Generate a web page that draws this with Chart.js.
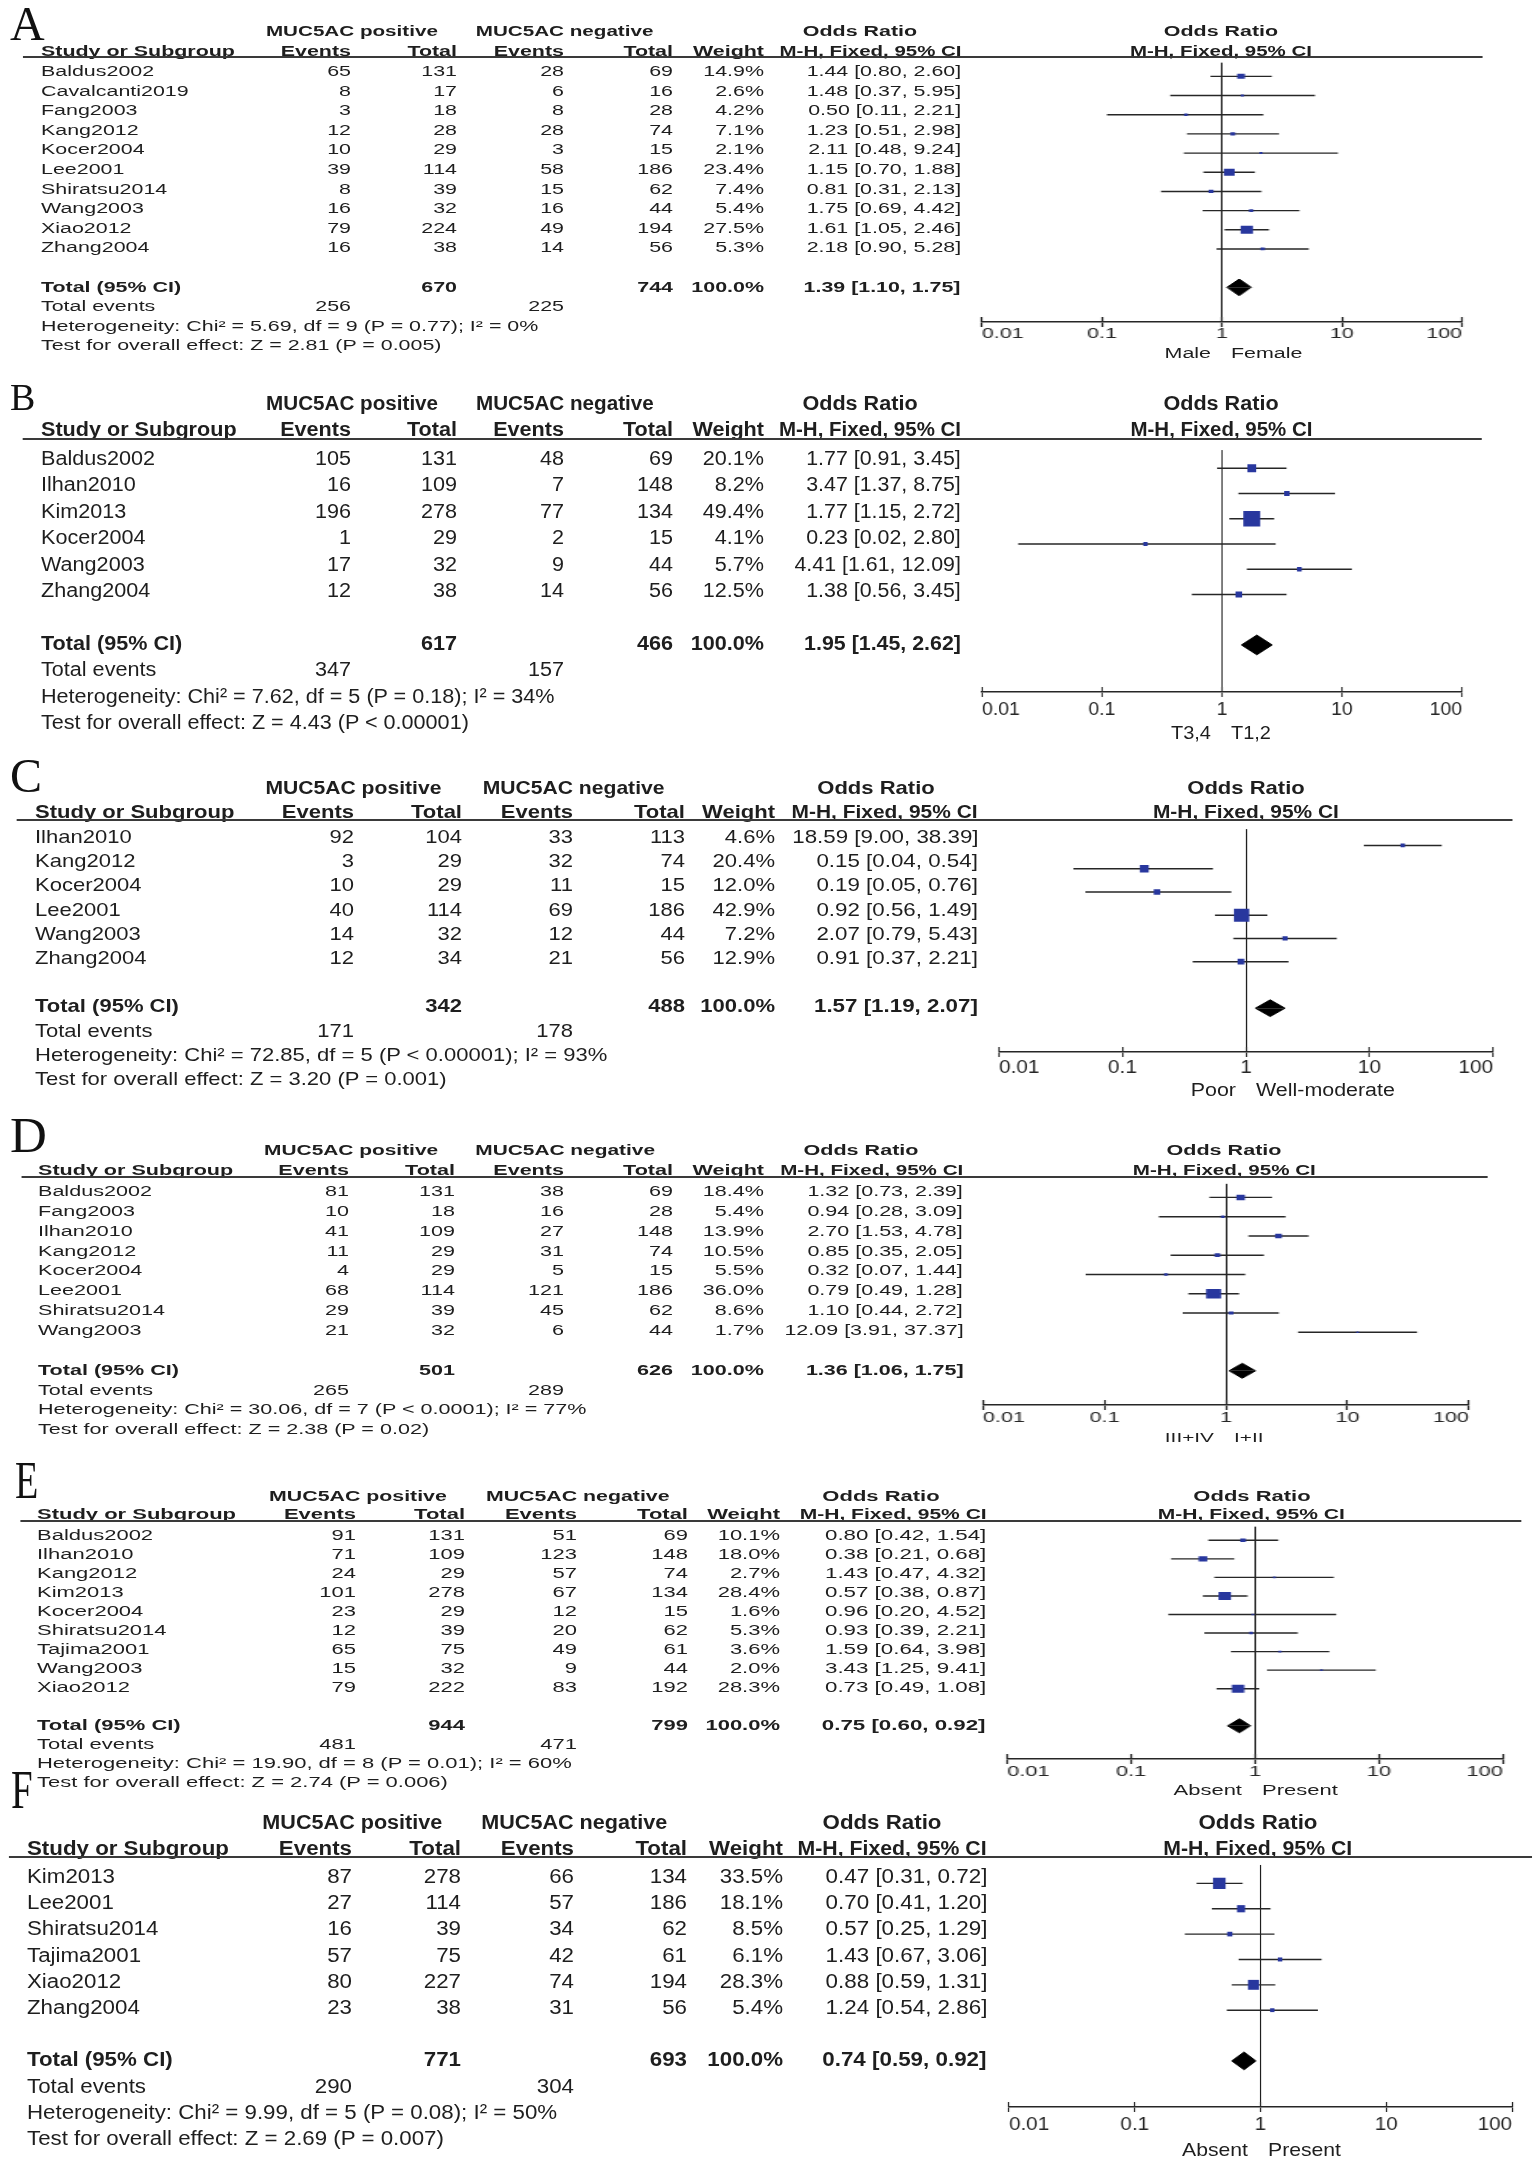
<!DOCTYPE html>
<html>
<head>
<meta charset="utf-8">
<script src="https://cdn.jsdelivr.net/npm/chart.js"></script>
<style>
html,body{margin:0;padding:0;background:#fff;}
#page{position:relative;width:1535px;height:2172px;overflow:hidden;background:#fff;}
.panel{position:absolute;left:0;top:0;height:2172px;transform-origin:0 0;}
.t{position:absolute;width:0;height:0;}
.t span{position:absolute;white-space:nowrap;color:#1e1e1e;font-family:"Liberation Sans",Arial,sans-serif;line-height:normal;}
.letter{position:absolute;font-family:"Liberation Serif","Times New Roman",serif;color:#111;line-height:normal;transform-origin:0 0;white-space:nowrap;}
</style>
</head>
<body>
<div id="page"></div>
<script>
// ---------------- DATA ----------------
const tickValues = [0.01, 0.1, 1, 10, 100];
const tickLabels = ['0.01', '0.1', '1', '10', '100'];

// Panel A
const studiesA = ['Baldus2002','Cavalcanti2019','Fang2003','Kang2012','Kocer2004','Lee2001','Shiratsu2014','Wang2003','Xiao2012','Zhang2004'];
const posEventsA = [65, 8, 3, 12, 10, 39, 8, 16, 79, 16];
const posTotalA = [131, 17, 18, 28, 29, 114, 39, 32, 224, 38];
const negEventsA = [28, 6, 8, 28, 3, 58, 15, 16, 49, 14];
const negTotalA = [69, 16, 28, 74, 15, 186, 62, 44, 194, 56];
const weightA = [14.9, 2.6, 4.2, 7.1, 2.1, 23.4, 7.4, 5.4, 27.5, 5.3];
const orA = [1.44, 1.48, 0.50, 1.23, 2.11, 1.15, 0.81, 1.75, 1.61, 2.18];
const lowA = [0.80, 0.37, 0.11, 0.51, 0.48, 0.70, 0.31, 0.69, 1.05, 0.90];
const highA = [2.60, 5.95, 2.21, 2.98, 9.24, 1.88, 2.13, 4.42, 2.46, 5.28];
const pooledA = [1.39, 1.10, 1.75];
const totalsA = [670, 744];
const totalEventsA = [256, 225];
const hetA = 'Heterogeneity: Chi\u00b2 = 5.69, df = 9 (P = 0.77); I\u00b2 = 0%';
const overallA = 'Test for overall effect: Z = 2.81 (P = 0.005)';
const favoursA = ['Male', 'Female'];

// Panel B
const studiesB = ['Baldus2002','Ilhan2010','Kim2013','Kocer2004','Wang2003','Zhang2004'];
const posEventsB = [105, 16, 196, 1, 17, 12];
const posTotalB = [131, 109, 278, 29, 32, 38];
const negEventsB = [48, 7, 77, 2, 9, 14];
const negTotalB = [69, 148, 134, 15, 44, 56];
const weightB = [20.1, 8.2, 49.4, 4.1, 5.7, 12.5];
const orB = [1.77, 3.47, 1.77, 0.23, 4.41, 1.38];
const lowB = [0.91, 1.37, 1.15, 0.02, 1.61, 0.56];
const highB = [3.45, 8.75, 2.72, 2.80, 12.09, 3.45];
const pooledB = [1.95, 1.45, 2.62];
const totalsB = [617, 466];
const totalEventsB = [347, 157];
const hetB = 'Heterogeneity: Chi\u00b2 = 7.62, df = 5 (P = 0.18); I\u00b2 = 34%';
const overallB = 'Test for overall effect: Z = 4.43 (P < 0.00001)';
const favoursB = ['T3,4', 'T1,2'];

// Panel C
const studiesC = ['Ilhan2010','Kang2012','Kocer2004','Lee2001','Wang2003','Zhang2004'];
const posEventsC = [92, 3, 10, 40, 14, 12];
const posTotalC = [104, 29, 29, 114, 32, 34];
const negEventsC = [33, 32, 11, 69, 12, 21];
const negTotalC = [113, 74, 15, 186, 44, 56];
const weightC = [4.6, 20.4, 12.0, 42.9, 7.2, 12.9];
const orC = [18.59, 0.15, 0.19, 0.92, 2.07, 0.91];
const lowC = [9.00, 0.04, 0.05, 0.56, 0.79, 0.37];
const highC = [38.39, 0.54, 0.76, 1.49, 5.43, 2.21];
const pooledC = [1.57, 1.19, 2.07];
const totalsC = [342, 488];
const totalEventsC = [171, 178];
const hetC = 'Heterogeneity: Chi\u00b2 = 72.85, df = 5 (P < 0.00001); I\u00b2 = 93%';
const overallC = 'Test for overall effect: Z = 3.20 (P = 0.001)';
const favoursC = ['Poor', 'Well-moderate'];

// Panel D
const studiesD = ['Baldus2002','Fang2003','Ilhan2010','Kang2012','Kocer2004','Lee2001','Shiratsu2014','Wang2003'];
const posEventsD = [81, 10, 41, 11, 4, 68, 29, 21];
const posTotalD = [131, 18, 109, 29, 29, 114, 39, 32];
const negEventsD = [38, 16, 27, 31, 5, 121, 45, 6];
const negTotalD = [69, 28, 148, 74, 15, 186, 62, 44];
const weightD = [18.4, 5.4, 13.9, 10.5, 5.5, 36.0, 8.6, 1.7];
const orD = [1.32, 0.94, 2.70, 0.85, 0.32, 0.79, 1.10, 12.09];
const lowD = [0.73, 0.28, 1.53, 0.35, 0.07, 0.49, 0.44, 3.91];
const highD = [2.39, 3.09, 4.78, 2.05, 1.44, 1.28, 2.72, 37.37];
const pooledD = [1.36, 1.06, 1.75];
const totalsD = [501, 626];
const totalEventsD = [265, 289];
const hetD = 'Heterogeneity: Chi\u00b2 = 30.06, df = 7 (P < 0.0001); I\u00b2 = 77%';
const overallD = 'Test for overall effect: Z = 2.38 (P = 0.02)';
const favoursD = ['III+IV', 'I+II'];

// Panel E
const studiesE = ['Baldus2002','Ilhan2010','Kang2012','Kim2013','Kocer2004','Shiratsu2014','Tajima2001','Wang2003','Xiao2012'];
const posEventsE = [91, 71, 24, 101, 23, 12, 65, 15, 79];
const posTotalE = [131, 109, 29, 278, 29, 39, 75, 32, 222];
const negEventsE = [51, 123, 57, 67, 12, 20, 49, 9, 83];
const negTotalE = [69, 148, 74, 134, 15, 62, 61, 44, 192];
const weightE = [10.1, 18.0, 2.7, 28.4, 1.6, 5.3, 3.6, 2.0, 28.3];
const orE = [0.80, 0.38, 1.43, 0.57, 0.96, 0.93, 1.59, 3.43, 0.73];
const lowE = [0.42, 0.21, 0.47, 0.38, 0.20, 0.39, 0.64, 1.25, 0.49];
const highE = [1.54, 0.68, 4.32, 0.87, 4.52, 2.21, 3.98, 9.41, 1.08];
const pooledE = [0.75, 0.60, 0.92];
const totalsE = [944, 799];
const totalEventsE = [481, 471];
const hetE = 'Heterogeneity: Chi\u00b2 = 19.90, df = 8 (P = 0.01); I\u00b2 = 60%';
const overallE = 'Test for overall effect: Z = 2.74 (P = 0.006)';
const favoursE = ['Absent', 'Present'];

// Panel F
const studiesF = ['Kim2013','Lee2001','Shiratsu2014','Tajima2001','Xiao2012','Zhang2004'];
const posEventsF = [87, 27, 16, 57, 80, 23];
const posTotalF = [278, 114, 39, 75, 227, 38];
const negEventsF = [66, 57, 34, 42, 74, 31];
const negTotalF = [134, 186, 62, 61, 194, 56];
const weightF = [33.5, 18.1, 8.5, 6.1, 28.3, 5.4];
const orF = [0.47, 0.70, 0.57, 1.43, 0.88, 1.24];
const lowF = [0.31, 0.41, 0.25, 0.67, 0.59, 0.54];
const highF = [0.72, 1.20, 1.29, 3.06, 1.31, 2.86];
const pooledF = [0.74, 0.59, 0.92];
const totalsF = [771, 693];
const totalEventsF = [290, 304];
const hetF = 'Heterogeneity: Chi\u00b2 = 9.99, df = 5 (P = 0.08); I\u00b2 = 50%';
const overallF = 'Test for overall effect: Z = 2.69 (P = 0.007)';
const favoursF = ['Absent', 'Present'];

// ---------------- LAYOUT (pixels / styles only) ----------------
const layoutA = {letter:'A', s:1.53, fs:14, tfs:14, ffs:14, lx:10, lbase:40, lsize:48, lsx:1,
  h1:31, h2:51, rule:57, rx0:23, rx1:1482, row0:71, rowH:19.6,
  cName:41, cEv1:351, cTot1:457, cEv2:564, cTot2:673, cW:764, cCI:961,
  posC:352, negC:565, orC:860, plotC:1221, x0:982, x4:1462, axisY:322, tickY:334, favY:353,
  sqA:1.5, sqB:0.236, dh:8.5, ciW:154.5, mucW:172, mhW:182};
const layoutB = {letter:'B', s:1.08, fs:20, tfs:18, ffs:18.5, lx:10, lbase:410, lsize:38, lsx:1,
  h1:403, h2:429, rule:439, rx0:23, rx1:1482, row0:458, rowH:26.4,
  cName:41, cEv1:351, cTot1:457, cEv2:564, cTot2:673, cW:764, cCI:961,
  posC:352, negC:565, orC:860, plotC:1221, x0:982, x4:1462, axisY:692, tickY:710, favY:733,
  sqA:2.9, sqB:0.258, dh:10.3, ciW:154.5, mucW:172, mhW:182};
const layoutC = {letter:'C', s:1.19, fs:18.5, tfs:17.5, ffs:18, lx:10, lbase:792, lsize:48, lsx:1,
  h1:788, h2:812, rule:820, rx0:17, rx1:1513, row0:837, rowH:24.2,
  cName:35, cEv1:354, cTot1:462, cEv2:573, cTot2:685, cW:775, cCI:978,
  posC:354, negC:573, orC:876, plotC:1246, x0:999, x4:1493, axisY:1052, tickY:1068, favY:1090,
  sqA:2.6, sqB:0.24, dh:8.7, ciW:186.3, mucW:176, mhW:186};
const layoutD = {letter:'D', s:1.54, fs:14, tfs:14, ffs:13.5, lx:10, lbase:1152, lsize:51, lsx:1,
  h1:1150, h2:1170, rule:1177, rx0:21, rx1:1488, row0:1191, rowH:19.86,
  cName:38, cEv1:349, cTot1:455, cEv2:564, cTot2:673, cW:764, cCI:963.5,
  posC:351, negC:565, orC:861, plotC:1224, x0:983, x4:1469, axisY:1405, tickY:1418, favY:1437,
  sqA:1.2, sqB:0.235, dh:7.7, ciW:155.4, mucW:174, mhW:183};
const layoutE = {letter:'E', s:1.57, fs:14, tfs:14, ffs:14, lx:15, lbase:1498, lsize:53, lsx:0.72,
  h1:1496, h2:1514, rule:1521, rx0:20, rx1:1522, row0:1535, rowH:19,
  cName:37, cEv1:356, cTot1:465, cEv2:577, cTot2:688, cW:780, cCI:986,
  posC:358, negC:577, orC:881, plotC:1252, x0:1007, x4:1503, axisY:1759, tickY:1772, favY:1790,
  sqA:1.1, sqB:0.243, dh:7.2, ciW:161.3, mucW:177.7, mhW:187};
const layoutF = {letter:'F', s:1.115, fs:20, tfs:18.5, ffs:19, lx:11, lbase:1808, lsize:54, lsx:0.72,
  h1:1822, h2:1848, rule:1857, rx0:9, rx1:1532, row0:1876, rowH:26.2,
  cName:27, cEv1:352, cTot1:461, cEv2:574, cTot2:687, cW:783, cCI:987,
  posC:352, negC:574, orC:882, plotC:1258, x0:1009, x4:1512, axisY:2107, tickY:2125, favY:2150,
  sqA:2.4, sqB:0.265, dh:9.2, ciW:161.8, mucW:180, mhW:189};

Chart.defaults.animation = false;
Chart.defaults.font.family = '"Liberation Sans", Arial, sans-serif';

function fmtCI(o, l, h) { return o.toFixed(2) + ' [' + l.toFixed(2) + ', ' + h.toFixed(2) + ']'; }

function buildPanel(P, d) {
  const page = document.getElementById('page');
  const s = P.s;
  const N = x => x / s;
  const cont = document.createElement('div');
  cont.className = 'panel';
  cont.style.width = (1535 / s) + 'px';
  cont.style.transform = 'scaleX(' + s + ')';
  page.appendChild(cont);

  // panel letter (unscaled)
  const L = document.createElement('div');
  L.className = 'letter';
  L.textContent = P.letter;
  L.style.fontSize = P.lsize + 'px';
  L.style.left = P.lx + 'px';
  L.style.top = (P.lbase - 0.91 * P.lsize) + 'px';
  if (P.lsx !== 1) L.style.transform = 'scaleX(' + P.lsx + ')';
  page.appendChild(L);

  function measure(str, bold, fs) {
    const sp = document.createElement('span');
    sp.style.cssText = 'position:absolute;visibility:hidden;white-space:nowrap;font-family:"Liberation Sans",Arial,sans-serif;';
    sp.style.fontSize = (fs || P.fs) + 'px';
    sp.style.fontWeight = bold ? 'bold' : 'normal';
    sp.textContent = str;
    cont.appendChild(sp);
    const w = sp.getBoundingClientRect().width / s;
    cont.removeChild(sp);
    return w;
  }

  function text(str, x, y, align, bold, k, fs) {
    const a = document.createElement('div');
    a.className = 't';
    a.style.left = N(x) + 'px';
    a.style.top = y + 'px';
    const sp = document.createElement('span');
    sp.textContent = str;
    sp.style.fontSize = (fs || P.fs) + 'px';
    sp.style.fontWeight = bold ? 'bold' : 'normal';
    const sc = k ? ' scaleX(' + k + ')' : '';
    if (align === 'left') {
      sp.style.left = '0'; sp.style.transformOrigin = '0 50%';
      sp.style.transform = 'translateY(-50%)' + sc;
    } else if (align === 'right') {
      sp.style.right = '0'; sp.style.transformOrigin = '100% 50%';
      sp.style.transform = 'translateY(-50%)' + sc;
    } else {
      sp.style.left = '0'; sp.style.transformOrigin = '50% 50%';
      sp.style.transform = 'translate(-50%,-50%)' + sc;
    }
    a.appendChild(sp);
    cont.appendChild(a);
  }

  const n = d.studies.length;
  const kMuc = P.mucW / (s * measure('MUC5AC positive', true));
  const kMh = P.mhW / (s * measure('M-H, Fixed, 95% CI', true));
  const kCI = P.ciW / (s * measure(fmtCI(d.or[0], d.low[0], d.high[0]), false));

  // headers
  text('MUC5AC positive', P.posC, P.h1, 'center', true, kMuc);
  text('MUC5AC negative', P.negC, P.h1, 'center', true, kMuc);
  text('Odds Ratio', P.orC, P.h1, 'center', true);
  text('Odds Ratio', P.plotC, P.h1, 'center', true);
  text('Study or Subgroup', P.cName, P.h2, 'left', true);
  text('Events', P.cEv1, P.h2, 'right', true);
  text('Total', P.cTot1, P.h2, 'right', true);
  text('Events', P.cEv2, P.h2, 'right', true);
  text('Total', P.cTot2, P.h2, 'right', true);
  text('Weight', P.cW, P.h2, 'right', true);
  text('M-H, Fixed, 95% CI', P.cCI, P.h2, 'right', true, kMh);
  text('M-H, Fixed, 95% CI', P.plotC, P.h2, 'center', true, kMh);

  const rule = document.createElement('div');
  rule.style.cssText = 'position:absolute;background:#3a3a3a;height:1.6px;left:' + N(P.rx0) + 'px;width:' +
    N(P.rx1 - P.rx0) + 'px;top:' + (P.rule - 0.8) + 'px;';
  cont.appendChild(rule);

  const rowY = i => P.row0 + i * P.rowH;
  for (let i = 0; i < n; i++) {
    const y = rowY(i);
    text(d.studies[i], P.cName, y, 'left');
    text(String(d.posEvents[i]), P.cEv1, y, 'right');
    text(String(d.posTotal[i]), P.cTot1, y, 'right');
    text(String(d.negEvents[i]), P.cEv2, y, 'right');
    text(String(d.negTotal[i]), P.cTot2, y, 'right');
    text(d.weight[i].toFixed(1) + '%', P.cW, y, 'right');
    text(fmtCI(d.or[i], d.low[i], d.high[i]), P.cCI, y, 'right', false, kCI);
  }
  const iT = n + 1;
  text('Total (95% CI)', P.cName, rowY(iT), 'left', true);
  text(String(d.totals[0]), P.cTot1, rowY(iT), 'right', true);
  text(String(d.totals[1]), P.cTot2, rowY(iT), 'right', true);
  text('100.0%', P.cW, rowY(iT), 'right', true);
  text(fmtCI(d.pooled[0], d.pooled[1], d.pooled[2]), P.cCI, rowY(iT), 'right', true, kCI);
  text('Total events', P.cName, rowY(iT + 1), 'left');
  text(String(d.totalEvents[0]), P.cEv1, rowY(iT + 1), 'right');
  text(String(d.totalEvents[1]), P.cEv2, rowY(iT + 1), 'right');
  text(d.het, P.cName, rowY(iT + 2), 'left');
  text(d.overall, P.cName, rowY(iT + 3), 'left');

  // favours labels
  text(d.favours[0], P.plotC - 10, P.favY, 'right', false, 0, P.ffs);
  text(d.favours[1], P.plotC + 10, P.favY, 'left', false, 0, P.ffs);

  // ---------- chart ----------
  const pad = 45;
  const areaW = N(P.x4 - P.x0);
  const wrapLeft = Math.floor(N(P.x0 - pad));
  const padLeft = N(P.x0) - wrapLeft;
  const cvW = Math.ceil(padLeft + areaW + N(pad));
  const padRight = cvW - padLeft - areaW;
  const areaH = P.axisY - P.rule;
  const cvH = Math.ceil(areaH) + 36;
  const axisH = cvH - areaH;

  const wrap = document.createElement('div');
  wrap.style.cssText = 'position:absolute;left:' + wrapLeft + 'px;top:' + P.rule + 'px;width:' + cvW + 'px;height:' + cvH + 'px;';
  const cv = document.createElement('canvas');
  cv.width = cvW; cv.height = cvH;
  cv.style.width = cvW + 'px'; cv.style.height = cvH + 'px';
  wrap.appendChild(cv);
  cont.appendChild(wrap);

  const yMin = -(P.row0 - P.rule) / P.rowH;
  const yMax = (P.axisY - P.row0) / P.rowH;

  const datasets = [];
  datasets.push({
    type: 'scatter', xAxisID: 'x', yAxisID: 'y',
    data: d.or.map((v, i) => ({x: v, y: i})),
    pointStyle: 'rect',
    pointRadius: d.weight.map(w => (P.sqA + P.sqB * w) / Math.SQRT2),
    pointHoverRadius: d.weight.map(w => (P.sqA + P.sqB * w) / Math.SQRT2),
    backgroundColor: '#28379e', borderColor: '#28379e', borderWidth: 0
  });
  const t = iT, h = P.dh / P.rowH;
  const [pv, pl, ph] = d.pooled;
  [-h, h].forEach(off => {
    datasets.push({
      type: 'line', xAxisID: 'x', yAxisID: 'y',
      data: [{x: pl, y: t}, {x: pv, y: t + off}, {x: ph, y: t}],
      fill: {value: t}, backgroundColor: '#000', borderColor: '#000',
      borderWidth: 1, pointRadius: 0, tension: 0
    });
  });
  for (let i = 0; i < n; i++) {
    datasets.push({
      type: 'line', xAxisID: 'x', yAxisID: 'y',
      data: [{x: d.low[i], y: i}, {x: d.high[i], y: i}],
      borderColor: '#262626', borderWidth: 1.4, pointRadius: 0, fill: false
    });
  }

  const setTicks = sc => { sc.ticks = tickValues.map(v => ({value: v})); };
  const labelPad = (P.tickY - P.axisY) - 5 - P.tfs / 2;

  new Chart(cv, {
    type: 'scatter',
    data: {datasets},
    options: {
      responsive: false,
      animation: false,
      events: [],
      layout: {padding: {left: padLeft, right: padRight, top: 0, bottom: 0}},
      plugins: {legend: {display: false}, tooltip: {enabled: false}},
      scales: {
        x: {
          type: 'logarithmic', axis: 'x', position: 'bottom', min: 0.01, max: 100,
          afterBuildTicks: setTicks,
          afterFit: sc => { sc.height = axisH; },
          grid: {
            drawOnChartArea: true, drawTicks: true, tickLength: 5, tickWidth: 1.2,
            tickColor: '#262626', lineWidth: 1,
            color: c => (c.tick && c.tick.value === 1) ? '#111' : 'rgba(0,0,0,0)'
          },
          border: {display: true, color: '#262626', width: 1.6},
          ticks: {
            autoSkip: false, maxRotation: 0, minRotation: 0, padding: labelPad, align: 'inner',
            color: '#262626', font: {size: P.tfs, lineHeight: 1},
            callback: (v, i) => tickLabels[i]
          }
        },
        xt: {
          type: 'logarithmic', axis: 'x', position: {y: yMax}, min: 0.01, max: 100,
          afterBuildTicks: setTicks,
          afterFit: sc => { sc.height = 0; },
          grid: {drawOnChartArea: false, drawTicks: true, tickLength: -5, tickWidth: 1.2, tickColor: '#262626'},
          border: {display: false},
          ticks: {display: false}
        },
        y: {type: 'linear', reverse: true, min: yMin, max: yMax, display: false}
      }
    }
  });
}

function pack(studies, posEvents, posTotal, negEvents, negTotal, weight, or, low, high, pooled, totals, totalEvents, het, overall, favours) {
  return {studies, posEvents, posTotal, negEvents, negTotal, weight, or, low, high, pooled, totals, totalEvents, het, overall, favours};
}

buildPanel(layoutA, pack(studiesA, posEventsA, posTotalA, negEventsA, negTotalA, weightA, orA, lowA, highA, pooledA, totalsA, totalEventsA, hetA, overallA, favoursA));
buildPanel(layoutB, pack(studiesB, posEventsB, posTotalB, negEventsB, negTotalB, weightB, orB, lowB, highB, pooledB, totalsB, totalEventsB, hetB, overallB, favoursB));
buildPanel(layoutC, pack(studiesC, posEventsC, posTotalC, negEventsC, negTotalC, weightC, orC, lowC, highC, pooledC, totalsC, totalEventsC, hetC, overallC, favoursC));
buildPanel(layoutD, pack(studiesD, posEventsD, posTotalD, negEventsD, negTotalD, weightD, orD, lowD, highD, pooledD, totalsD, totalEventsD, hetD, overallD, favoursD));
buildPanel(layoutE, pack(studiesE, posEventsE, posTotalE, negEventsE, negTotalE, weightE, orE, lowE, highE, pooledE, totalsE, totalEventsE, hetE, overallE, favoursE));
buildPanel(layoutF, pack(studiesF, posEventsF, posTotalF, negEventsF, negTotalF, weightF, orF, lowF, highF, pooledF, totalsF, totalEventsF, hetF, overallF, favoursF));
</script>
</body>
</html>
